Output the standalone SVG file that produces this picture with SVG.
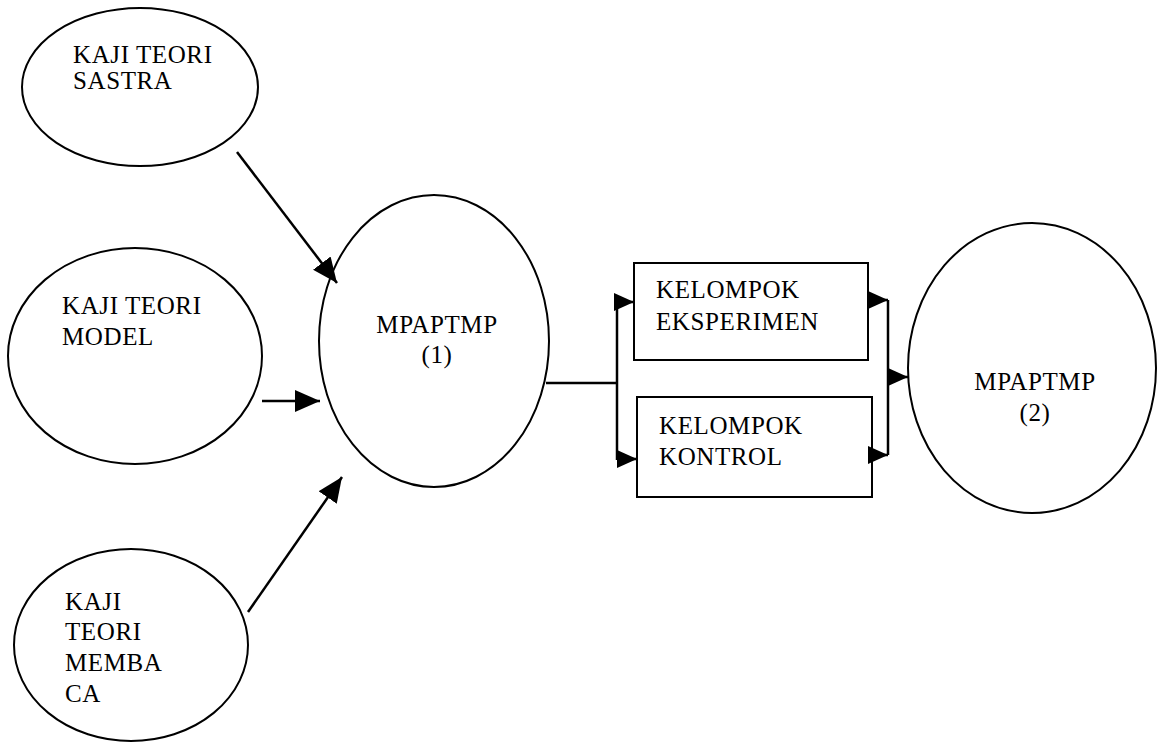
<svg xmlns="http://www.w3.org/2000/svg" width="1158" height="742" viewBox="0 0 1158 742">
<style>
.shape{fill:#fff;stroke:#000;stroke-width:2}
.lbl{font-family:"Liberation Serif","Times New Roman",serif;font-size:25px;letter-spacing:0.6px;fill:#000}
.mid{text-anchor:middle}
.conn{fill:none;stroke:#000;stroke-width:2.5}
</style>
<defs>
<marker id="ah" markerUnits="userSpaceOnUse" markerWidth="28" markerHeight="24" refX="25" refY="11" orient="auto">
<path d="M0,0 L25,11 L0,22 z" fill="#000"/>
</marker>
<marker id="ahs" markerUnits="userSpaceOnUse" markerWidth="22" markerHeight="20" refX="20" refY="9" orient="auto">
<path d="M0,0 L20,9 L0,18 z" fill="#000"/>
</marker>
</defs>
<rect width="1158" height="742" fill="#fff"/>
<g id="sastra">
<ellipse class="shape" cx="140" cy="87" rx="118" ry="79"/>
<text class="lbl" x="73" y="63">KAJI TEORI</text>
<text class="lbl" x="73" y="89">SASTRA</text>
</g>
<g id="model">
<ellipse class="shape" cx="135" cy="356" rx="127" ry="108"/>
<text class="lbl" x="62" y="314">KAJI TEORI</text>
<text class="lbl" x="62" y="345">MODEL</text>
</g>
<g id="membaca">
<ellipse class="shape" cx="131" cy="645" rx="117" ry="96"/>
<text class="lbl" x="65" y="610">KAJI</text>
<text class="lbl" x="65" y="640">TEORI</text>
<text class="lbl" x="65" y="671">MEMBA</text>
<text class="lbl" x="65" y="702">CA</text>
</g>
<g id="mpaptmp1">
<ellipse class="shape" cx="434" cy="341" rx="115" ry="146"/>
<text class="lbl mid" x="437" y="333">MPAPTMP</text>
<text class="lbl mid" x="437" y="363">(1)</text>
</g>
<g id="eksperimen">
<rect class="shape" x="634" y="263" width="234" height="97"/>
<text class="lbl" x="656" y="298">KELOMPOK</text>
<text class="lbl" x="656" y="330">EKSPERIMEN</text>
</g>
<g id="kontrol">
<rect class="shape" x="637" y="397" width="235" height="100"/>
<text class="lbl" x="659" y="434">KELOMPOK</text>
<text class="lbl" x="659" y="465">KONTROL</text>
</g>
<g id="mpaptmp2">
<ellipse class="shape" cx="1032" cy="368" rx="124" ry="145"/>
<text class="lbl mid" x="1035" y="390">MPAPTMP</text>
<text class="lbl mid" x="1035" y="421">(2)</text>
</g>
<g id="connectors">
<path class="conn" d="M237,152 L337,283" marker-end="url(#ah)"/>
<path class="conn" d="M262,401 L320,401" marker-end="url(#ah)"/>
<path class="conn" d="M248,612 L342,477" marker-end="url(#ah)"/>
<path class="conn" d="M546,383 L617,383"/>
<path class="conn" d="M617,302 L617,460"/>
<path class="conn" d="M617,302 L634,302" marker-end="url(#ahs)"/>
<path class="conn" d="M617,459 L637,459" marker-end="url(#ahs)"/>
<path class="conn" d="M868,300 L888,300" marker-end="url(#ahs)"/>
<path class="conn" d="M872,455 L888,455" marker-end="url(#ahs)"/>
<path class="conn" d="M888,300 L888,455"/>
<path class="conn" d="M888,377 L908,377" marker-end="url(#ahs)"/>
</g>
</svg>
